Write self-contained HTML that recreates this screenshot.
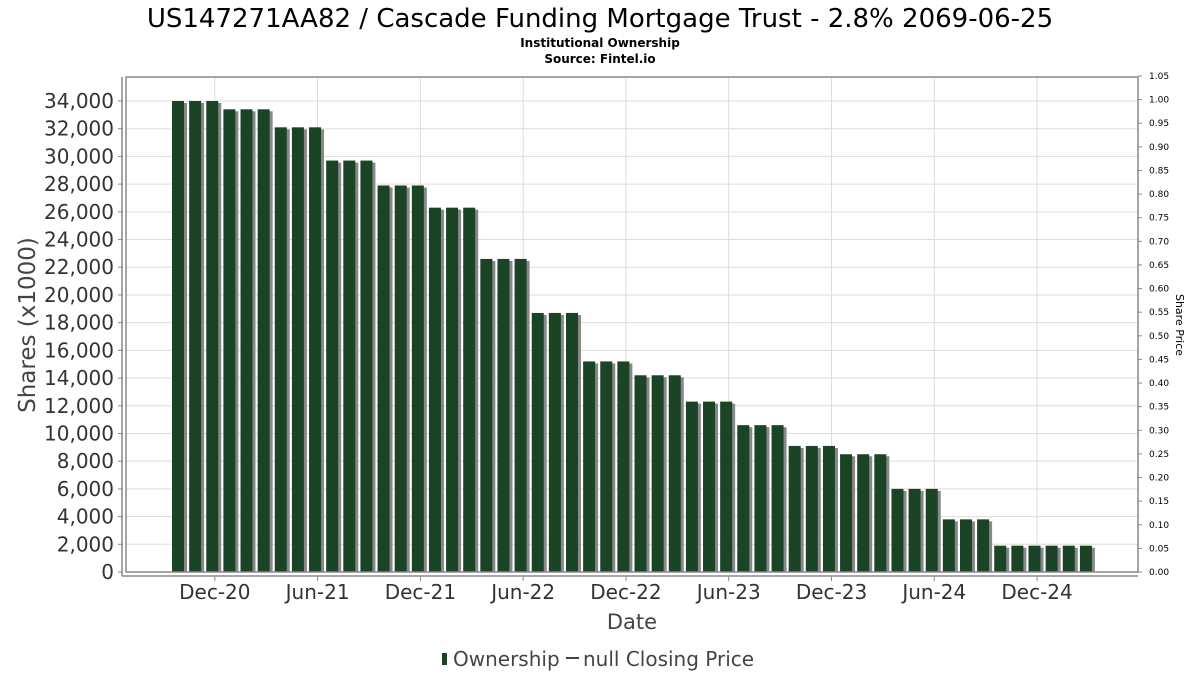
<!DOCTYPE html>
<html><head><meta charset="utf-8"><style>
body{margin:0;background:#fff;width:1200px;height:675px;overflow:hidden;font-family:"Liberation Sans","DejaVu Sans",sans-serif}
</style></head><body>
<svg id="chart" width="1200" height="675" xmlns="http://www.w3.org/2000/svg" font-family="DejaVu Sans, Liberation Sans, sans-serif">
<text x="600" y="27" text-anchor="middle" font-size="26" fill="#000">US147271AA82 / Cascade Funding Mortgage Trust - 2.8% 2069-06-25</text>
<text x="600" y="47" text-anchor="middle" font-size="12" font-weight="bold" fill="#000">Institutional Ownership</text>
<text x="600" y="63" text-anchor="middle" font-size="12" font-weight="bold" fill="#000">Source: Fintel.io</text>
<g id="grid"></g><g id="bars"></g><g id="axes"></g>
<text transform="translate(35,325) rotate(-90)" text-anchor="middle" font-size="23" fill="#444">Shares (x1000)</text>
<text transform="translate(1176,325) rotate(90)" text-anchor="middle" font-size="11" fill="#000">Share Price</text>
<text x="632" y="629" text-anchor="middle" font-size="21" fill="#444">Date</text>
<g>
<rect x="442" y="653" width="5" height="12" fill="#1b4325"/>
<text x="453" y="666" font-size="20" fill="#444">Ownership</text>
<line x1="566" y1="658" x2="579" y2="658" stroke="#444" stroke-width="2"/>
<text x="583" y="666" font-size="20" fill="#444">null Closing Price</text>
</g>
</svg>
<script>
const values=[34000,34000,34000,33400,33400,33400,32100,32100,32100,29700,29700,29700,27900,27900,27900,26300,26300,26300,22600,22600,22600,18700,18700,18700,15200,15200,15200,14200,14200,14200,12300,12300,12300,10600,10600,10600,9100,9100,9100,8500,8500,8500,6000,6000,6000,3800,3800,3800,1900,1900,1900,1900,1900,1900];
const yTicks=[0,2000,4000,6000,8000,10000,12000,14000,16000,18000,20000,22000,24000,26000,28000,30000,32000,34000];
const y2Ticks=[0,0.05,0.1,0.15,0.2,0.25,0.3,0.35,0.4,0.45,0.5,0.55,0.6,0.65,0.7,0.75,0.8,0.85,0.9,0.95,1.0,1.05];
const xLabels=["Dec-20","Jun-21","Dec-21","Jun-22","Dec-22","Jun-23","Dec-23","Jun-24","Dec-24"];
const xLabelIdx=[2.5,8.5,14.5,20.5,26.5,32.5,38.5,44.5,50.5];
const NS="http://www.w3.org/2000/svg";
const L=126,R=1138,T=77,B=572;
const y=v=>B-v*(471/34000);
const y2=v=>B-v*(496/1.05);
const xb=i=>172+i*17.13;
function mk(tag,attrs,parent){const e=document.createElementNS(NS,tag);for(const k in attrs)e.setAttribute(k,attrs[k]);parent.appendChild(e);return e;}
const grid=document.getElementById('grid'),bars=document.getElementById('bars'),axes=document.getElementById('axes');
mk('rect',{x:L,y:T,width:R-L,height:B-T,fill:'#fff'},grid);
yTicks.forEach(v=>{const g=mk('line',{x1:L,x2:R,y1:y(v),y2:y(v),stroke:'#ddd'},grid);


mk('line',{x1:118,x2:123,y1:y(v),y2:y(v),stroke:'#888'},axes);
const t=mk('text',{x:114,y:y(v)+7,'text-anchor':'end','font-size':20,fill:'#333'},axes);t.textContent=v.toLocaleString('en-US');

});
xLabelIdx.forEach((idx,k)=>{const x=xb(idx);
const g=mk('line',{x1:x,x2:x,y1:T,y2:B,stroke:'#ddd'},grid);


mk('line',{x1:x,x2:x,y1:576,y2:581,stroke:'#888'},axes);
const t=mk('text',{x:x,y:599,'text-anchor':'middle','font-size':20,fill:'#333'},axes);t.textContent=xLabels[k];

});
y2Ticks.forEach(v=>{mk('line',{x1:R,x2:R+4,y1:y2(v),y2:y2(v),stroke:'#888'},axes);
const t=mk('text',{x:1149,y:y2(v)+3,'font-size':9,fill:'#000'},axes);t.textContent=v.toFixed(2);

});
values.forEach((v,i)=>{const x=xb(i);
mk('rect',{x:x+3,y:y(v)+2,width:12,height:B-y(v)-2,fill:'#888'},bars);
const r=mk('rect',{x:x,y:y(v),width:12,height:B-y(v),fill:'#1b4325'},bars);

});
mk('rect',{x:L,y:T,width:R-L,height:B-T,fill:'none',stroke:'#888','stroke-width':1.5},axes);
mk('line',{x1:122,x2:122,y1:T,y2:576,stroke:'#888','stroke-width':1.5},axes);
mk('line',{x1:122,x2:R,y1:576,y2:576,stroke:'#888','stroke-width':1.5},axes);
</script>
</body></html>
